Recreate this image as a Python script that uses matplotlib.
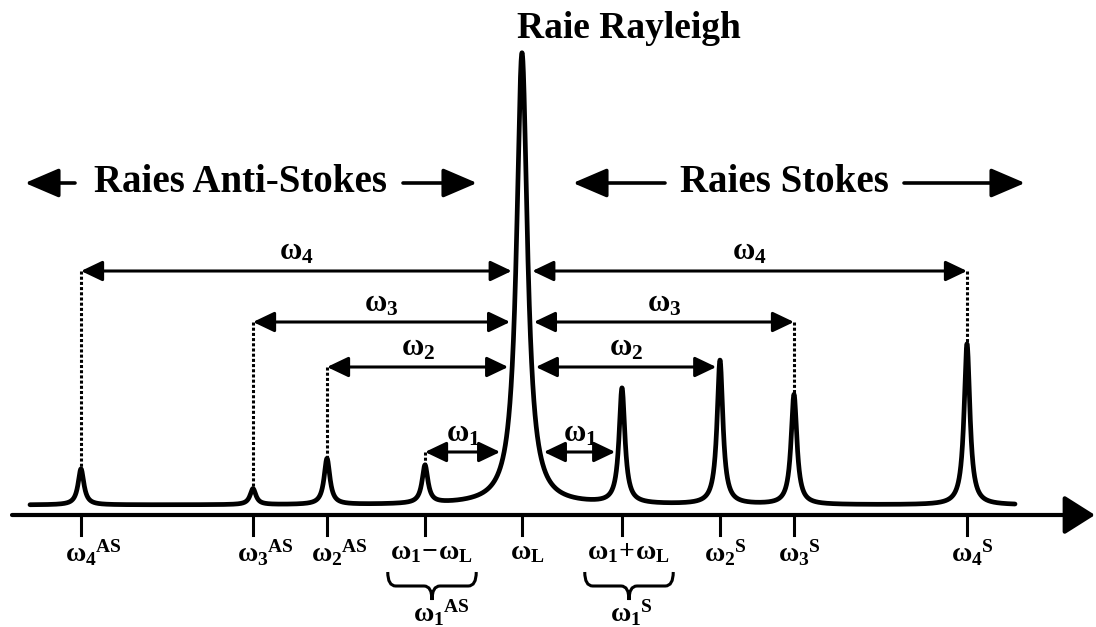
import matplotlib
matplotlib.use("Agg")
import matplotlib.pyplot as plt
from matplotlib.path import Path
from matplotlib.patches import PathPatch
import numpy as np

# Raman lines: position relative to the laser line (omega_L = 0), height, half width
line_names = ["w4AS", "w3AS", "w2AS", "w1AS", "wL", "w1S", "w2S", "w3S", "w4S"]
line_pos = [-441, -269, -195, -97, 0, 100, 198, 272, 445]
line_height = [36, 16, 46, 38, 452, 115, 144, 110, 161]
line_width = [3.5, 3.5, 3.5, 3.5, 6.5, 3.5, 3.5, 3.5, 3.5]

tick_labels = [r"$\omega_4{}^{AS}$", r"$\omega_3{}^{AS}$", r"$\omega_2{}^{AS}$",
               r"$\omega_1\!-\!\omega_L$", r"$\omega_L$", r"$\omega_1\!+\!\omega_L$",
               r"$\omega_2{}^{S}$", r"$\omega_3{}^{S}$", r"$\omega_4{}^{S}$"]

# shift arrows: label, level, index of anti-Stokes line, index of Stokes line
shift_labels = [r"$\omega_4$", r"$\omega_3$", r"$\omega_2$", r"$\omega_1$"]
shift_level = [234, 183, 138, 53]
shift_as = [0, 1, 2, 3]
shift_s = [8, 7, 6, 5]

plt.rcParams["font.family"] = "Liberation Serif"
plt.rcParams["font.weight"] = "bold"
plt.rcParams["mathtext.fontset"] = "custom"
plt.rcParams["mathtext.rm"] = "Liberation Serif:bold"
plt.rcParams["mathtext.it"] = "Liberation Serif:bold"
plt.rcParams["mathtext.bf"] = "Liberation Serif:bold"


def lorentz(x, p, h, g):
    return h * g**2 / ((x - p)**2 + g**2)


def half_span(i, level):
    # horizontal distance from line centre where the line reaches this level
    h, g = line_height[i], line_width[i]
    if level >= h:
        return 0.0
    return g * np.sqrt(h / level - 1)


def brace(ax, x0, x1, ytop, ymid, ybot):
    xm = (x0 + x1) / 2
    r = 8
    verts = [(x0, ytop), (x0, ymid), (x0 + r, ymid), (xm - r, ymid), (xm, ymid), (xm, ybot),
             (xm, ymid), (xm + r, ymid), (x1 - r, ymid), (x1, ymid), (x1, ytop)]
    codes = [Path.MOVETO, Path.CURVE3, Path.CURVE3, Path.LINETO, Path.CURVE3, Path.CURVE3,
             Path.CURVE3, Path.CURVE3, Path.LINETO, Path.CURVE3, Path.CURVE3]
    ax.add_patch(PathPatch(Path(verts, codes), fill=False, lw=2.2, color="k"))


fig = plt.figure(figsize=(10.96, 6.27), dpi=100)
ax = fig.add_axes([0, 0, 1, 1])
ax.set_xlim(-522, 574)
ax.set_ylim(-122, 505)
ax.axis("off")

# spectrum
x = np.linspace(-492, 493, 6000)
y = np.zeros_like(x)
for p, h, g in zip(line_pos, line_height, line_width):
    y += lorentz(x, p, h, g)
ax.plot(x, y, color="k", lw=3.4, solid_capstyle="round")

# frequency axis
axis_y = -10
ax.annotate("", xy=(573, axis_y), xytext=(-510, axis_y),
            arrowprops=dict(arrowstyle="-|>,head_length=0.95,head_width=0.6",
                            lw=3, color="k", shrinkA=0, shrinkB=0, mutation_scale=20))
for p in line_pos:
    ax.plot([p, p], [axis_y, axis_y - 20], color="k", lw=2.2)

label_y = -48
tick_fs = 20
tick_texts = []
for i, (p, lab) in enumerate(zip(line_pos, tick_labels)):
    if i in (3, 5):
        t = ax.text(p + 6, label_y, lab, ha="center", va="center", fontsize=tick_fs)
    elif i == 4:
        t = ax.text(p - 12, label_y, lab, ha="left", va="center", fontsize=tick_fs)
    else:
        t = ax.text(p - 16, label_y, lab, ha="left", va="center", fontsize=tick_fs)
    tick_texts.append(t)

# braces under omega1 -/+ omega_L
fig.canvas.draw()
inv = ax.transData.inverted()
for i, lab in [(3, r"$\omega_1{}^{AS}$"), (5, r"$\omega_1{}^{S}$")]:
    bb = tick_texts[i].get_window_extent()
    (bx0, _), (bx1, _) = inv.transform([(bb.x0, bb.y0), (bb.x1, bb.y1)])
    brace(ax, bx0 - 2, bx1 + 4, -67, -81, -95)
    ax.text(line_pos[i] - 12, -108, lab, ha="left", va="center", fontsize=tick_fs)

# shift arrows around the Rayleigh line
ray = 4
head = "<|-|>,head_length=0.65,head_width=0.31"
for lab, lev, ia, js in zip(shift_labels, shift_level, shift_as, shift_s):
    inner = half_span(ray, lev) + 4
    # anti-Stokes side
    xa = line_pos[ia] - half_span(ia, lev) - (3 if lev < line_height[ia] else 0)
    ax.annotate("", xy=(xa, lev), xytext=(-inner, lev),
                arrowprops=dict(arrowstyle=head, lw=2.2, color="k",
                                shrinkA=0, shrinkB=0, mutation_scale=20))
    # Stokes side
    xs = line_pos[js] - half_span(js, lev) - (3 if lev < line_height[js] else 0)
    ax.annotate("", xy=(xs, lev), xytext=(inner, lev),
                arrowprops=dict(arrowstyle=head, lw=2.2, color="k",
                                shrinkA=0, shrinkB=0, mutation_scale=20))
    ax.text((xa - inner) / 2, lev + 4, lab, ha="center", va="bottom", fontsize=22)
    ax.text((xs + inner) / 2, lev + 4, lab, ha="center", va="bottom", fontsize=22)
    # dotted drop lines down to the line tops
    for k in (ia, js):
        if lev > line_height[k]:
            ax.plot([line_pos[k], line_pos[k]], [lev, line_height[k]],
                    color="k", lw=2.2, ls=(0, (1, 0.7)))

# titles
ax.text(line_pos[ray] - 5, 476, "Raie Rayleigh", ha="left", va="center", fontsize=27)

big = "-|>,head_length=1.05,head_width=0.45"
region_y = 322
ax.text(-282, region_y, "Raies Anti-Stokes", ha="center", va="center", fontsize=28)
ax.text(262, region_y, "Raies Stokes", ha="center", va="center", fontsize=28)
for tail, tip in [(-447, -497), (-119, -45), (143, 51), (382, 503)]:
    ax.annotate("", xy=(tip, region_y), xytext=(tail, region_y),
                arrowprops=dict(arrowstyle=big, lw=2.6, color="k",
                                shrinkA=0, shrinkB=0, mutation_scale=20))

fig.savefig("out.png", dpi=100)
